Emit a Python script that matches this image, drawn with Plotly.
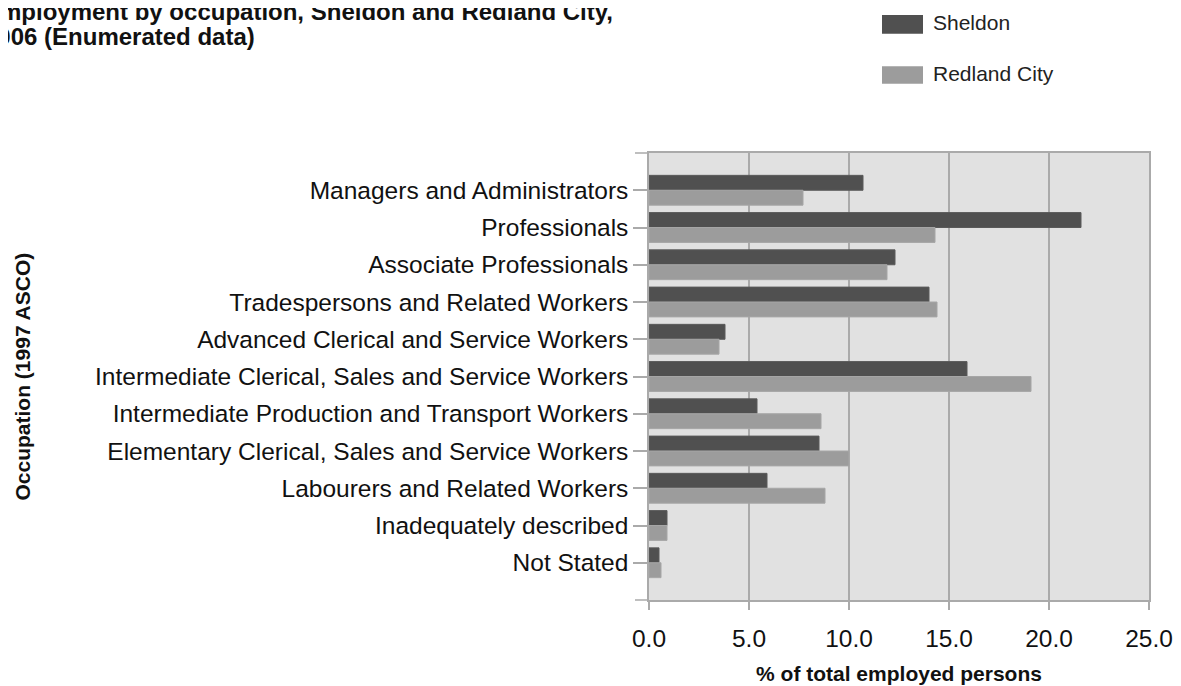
import plotly.graph_objects as go

occupations = [
    "Managers and Administrators",
    "Professionals",
    "Associate Professionals",
    "Tradespersons and Related Workers",
    "Advanced Clerical and Service Workers",
    "Intermediate Clerical, Sales and Service Workers",
    "Intermediate Production and Transport Workers",
    "Elementary Clerical, Sales and Service Workers",
    "Labourers and Related Workers",
    "Inadequately described",
    "Not Stated",
]
sheldon = [10.7, 21.6, 12.3, 14.0, 3.8, 15.9, 5.4, 8.5, 5.9, 0.9, 0.5]
redland = [7.7, 14.3, 11.9, 14.4, 3.5, 19.1, 8.6, 10.0, 8.8, 0.9, 0.6]
x_ticks = [0, 5, 10, 15, 20, 25]

dark = "#505050"
light = "#9c9c9c"
grid = "#aaaaaa"

fig = go.Figure()
fig.add_trace(go.Bar(y=occupations, x=sheldon, name="Sheldon", orientation="h",
                     marker=dict(color=dark, line=dict(color="#5a5a5a", width=1))))
fig.add_trace(go.Bar(y=occupations, x=redland, name="Redland City", orientation="h",
                     marker=dict(color=light, line=dict(color="#a6a6a6", width=1))))

# page has an 8px body margin, so the figure is offset by (8, 8)
fig.update_layout(
    width=1181, height=686,
    margin=dict(l=641, r=40, t=145, b=87),
    paper_bgcolor="white",
    plot_bgcolor="#e1e1e1",
    barmode="group",
    bargap=0.2,
    bargroupgap=0,
    showlegend=False,
    font=dict(family="Liberation Sans, Arial, sans-serif", color="#111111"),
)

fig.update_xaxes(
    range=[0, 25],
    tickvals=x_ticks,
    tickformat=".1f",
    tickfont=dict(size=24.5),
    ticks="outside", ticklen=8, tickcolor=grid, tickwidth=1.5,
    ticklabelstandoff=8,
    showgrid=True, gridcolor=grid, gridwidth=1.5,
    showline=True, linecolor=grid, linewidth=1.5, mirror=True,
    zeroline=False,
    title=dict(text="<b>% of total employed persons</b>", font=dict(size=21), standoff=15),
)
fig.update_yaxes(
    type="category",
    range=[11, -1],
    tickfont=dict(size=24.5),
    ticks="outside", ticklen=14, tickcolor=grid, tickwidth=1.5,
    showgrid=False,
    showline=True, linecolor=grid, linewidth=1.5, mirror=True,
    ticklabelstandoff=0,
)

# tick stubs at the top and bottom edges of the frame
for yy in (0, 1):
    fig.add_shape(type="line", xref="paper", yref="paper", x0=-0.028, x1=0, y0=yy, y1=yy,
                  line=dict(color=grid, width=1.5))

# legend drawn as swatches
legend_items = [("Sheldon", dark, 1.267, 1.309), ("Redland City", light, 1.155, 1.194)]
for label, col, y0, y1 in legend_items:
    fig.add_shape(type="rect", xref="paper", yref="paper", x0=0.466, x1=0.548, y0=y0, y1=y1,
                  fillcolor=col, line=dict(width=0))
    fig.add_annotation(xref="paper", yref="paper", x=0.564, y=(y0 + y1) / 2 + 0.003, text=label,
                       showarrow=False, xanchor="left", yanchor="middle",
                       font=dict(size=21, color="#222222"))

title_lines = [("<b>Employment by occupation, Sheldon and Redland City,</b>", 1.3175),
               ("<b>2006 (Enumerated data)</b>", 1.2610)]
for txt, yy in title_lines:
    fig.add_annotation(
        xref="paper", yref="paper", x=-1.335, y=yy, xanchor="left", yanchor="middle",
        text=txt, showarrow=False, font=dict(size=24, color="#111111"),
    )
fig.add_annotation(
    xref="paper", yref="paper", x=-1.254, y=0.5, textangle=-90,
    text="<b>Occupation (1997 ASCO)</b>", showarrow=False,
    xanchor="center", yanchor="middle", font=dict(size=21, color="#111111"),
)

fig.write_html("out.html")
